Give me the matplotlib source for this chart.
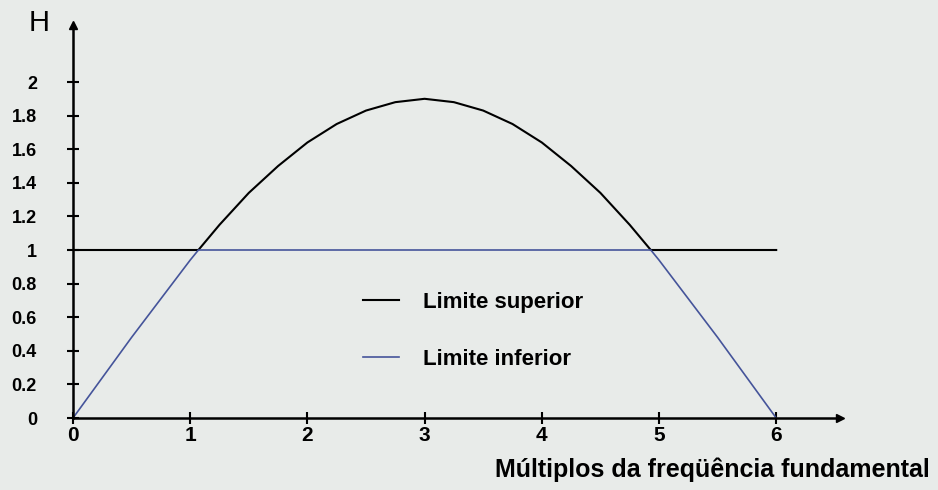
import matplotlib.pyplot as plt
import numpy as np

# Harmonic multiples (x) and the H curve
multiples = [0, 0.25, 0.5, 0.75, 1.0, 1.07, 1.25, 1.5, 1.75, 2.0, 2.25, 2.5, 2.75, 3.0,
             3.25, 3.5, 3.75, 4.0, 4.25, 4.5, 4.75, 4.93, 5.0, 5.25, 5.5, 5.75, 6.0]
h_curve = [0.0, 0.24, 0.48, 0.71, 0.94, 1.0, 1.15, 1.34, 1.50, 1.64, 1.75, 1.83, 1.88, 1.90,
           1.88, 1.83, 1.75, 1.64, 1.50, 1.34, 1.15, 1.0, 0.94, 0.71, 0.48, 0.24, 0.0]
level = 1.0

x_ticks = [0, 1, 2, 3, 4, 5, 6]
y_ticks = [0, 0.2, 0.4, 0.6, 0.8, 1, 1.2, 1.4, 1.6, 1.8, 2]
y_labels = ["0", "0.2", "0.4", "0.6", "0.8", "1", "1.2", "1.4", "1.6", "1.8", "2"]

BG = "#e8ebe9"
BLUE = "#45549a"

x = np.array(multiples)
h = np.array(h_curve)
upper = np.maximum(h, level)
lower = np.minimum(h, level)

plt.rcParams["font.family"] = ["Liberation Sans", "DejaVu Sans"]

fig = plt.figure(figsize=(9.38, 4.9), dpi=100, facecolor=BG)
ax = fig.add_axes([73 / 938, 72 / 490, 767 / 938, 393 / 490])
ax.set_facecolor(BG)

ax.plot(x, upper, color="black", lw=1.5, label="Limite superior")
ax.plot(x, lower, color=BLUE, lw=1.2, label="Limite inferior")

ax.set_xlim(0, 767 / 117.2)
ax.set_ylim(0, 393 / 168)

for side in ("top", "right"):
    ax.spines[side].set_visible(False)
for side in ("left", "bottom"):
    ax.spines[side].set_linewidth(1.8)
    ax.spines[side].set_color("black")

# arrow heads at the end of the axes
ax.plot(1, 0, ">", color="black", ms=6, transform=ax.transAxes, clip_on=False)
ax.plot(0, 1, "^", color="black", ms=6, transform=ax.transAxes, clip_on=False)

ax.set_xticks(x_ticks)
ax.set_xticklabels([str(t) for t in x_ticks], fontsize=15, fontweight="bold")
ax.set_yticks(y_ticks)
ax.set_yticklabels(y_labels, fontsize=13, fontweight="bold")
ax.tick_params(axis="both", direction="inout", length=8, width=1.5, color="black")
ax.tick_params(axis="x", pad=2)
ax.tick_params(axis="y", pad=22)

fig.text(50 / 938, 1 - 23 / 490, "H", fontsize=21, ha="right", va="center")
fig.text(930 / 938, 1 - 470 / 490, "Múltiplos da freqüência fundamental",
         fontsize=18, fontweight="bold", ha="right", va="center")

ax.legend(loc="upper left", bbox_to_anchor=(363 / 938, 1 - 292 / 490),
          bbox_transform=fig.transFigure, frameon=False, borderpad=0, borderaxespad=0,
          handlelength=1.6, handletextpad=1.1, labelspacing=1.6,
          prop={"size": 16, "weight": "bold"})

fig.savefig("out.png", dpi=100, facecolor=BG)
